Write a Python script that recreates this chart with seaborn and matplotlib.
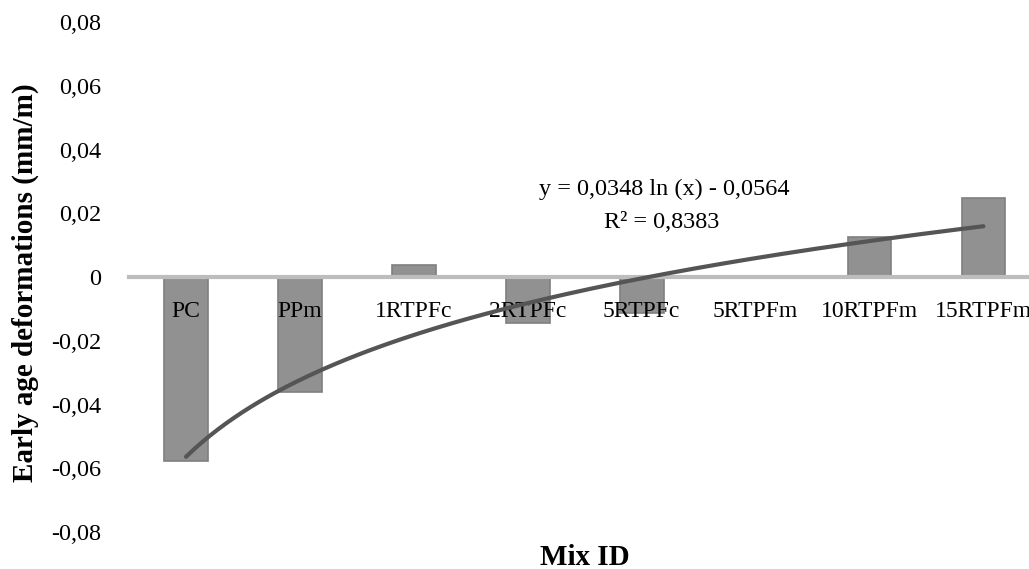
import numpy as np
import pandas as pd
import matplotlib
matplotlib.use("Agg")
import matplotlib.pyplot as plt
import seaborn as sns
from matplotlib.ticker import FuncFormatter

# data
mixes = ["PC", "PPm", "1RTPFc", "2RTPFc", "5RTPFc", "5RTPFm", "10RTPFm", "15RTPFm"]
deformation = [-0.0576, -0.0362, 0.0038, -0.0145, -0.0112, 0.0, 0.0126, 0.0249]

# logarithmic trendline as printed on the chart
trend_slope = 0.0348
trend_intercept = -0.0564
trend_label = "y = 0,0348 ln (x) - 0,0564"
r2_label = "R² = 0,8383"

sns.set_style("white")
plt.rcParams['font.family'] = ['Liberation Serif', 'DejaVu Serif']
plt.rcParams['text.color'] = 'black'
plt.rcParams['xtick.color'] = 'black'
plt.rcParams['ytick.color'] = 'black'
plt.rcParams['axes.labelcolor'] = 'black'

dfrm = pd.DataFrame({'Mix ID': mixes, 'Deformation': deformation})

fig = plt.figure(figsize=(10.29, 5.69), dpi=100)
ax = fig.add_axes([0.1254, 0.065, 0.8746, 0.896])

sns.barplot(data=dfrm, x='Mix ID', y='Deformation', color='#919191',
            width=0.385, edgecolor='#7f7f7f', linewidth=1.2, saturation=1, ax=ax)

# trendline over x = 1..n
xs = np.linspace(1, len(mixes), 200)
ax.plot(xs - 1, trend_slope * np.log(xs) + trend_intercept,
        color='#555555', linewidth=3, zorder=4)

ax.set_ylim(-0.08, 0.08)
ax.set_xlim(-0.5, len(mixes) - 0.6)
ax.set_yticks([-0.08, -0.06, -0.04, -0.02, 0, 0.02, 0.04, 0.06, 0.08])
ax.yaxis.set_major_formatter(FuncFormatter(
    lambda v, p: "0" if abs(v) < 1e-9 else f"{v:.2f}".replace('.', ',')))

for s in ['top', 'right', 'left']:
    ax.spines[s].set_visible(False)
ax.spines['bottom'].set_position(('data', 0))
ax.spines['bottom'].set_color('#bdbdbd')
ax.spines['bottom'].set_linewidth(3)
ax.set_axisbelow(False)

ax.tick_params(axis='x', length=0, pad=17, labelsize=17)
ax.tick_params(axis='y', length=0, pad=20, labelsize=17.5)

ax.set_xlabel("")
ax.set_ylabel("Early age deformations (mm/m)", fontsize=21, fontweight='bold', labelpad=4)
ax.yaxis.set_label_coords(-0.1, 0.49)
fig.text(0.5685, 0.021, "Mix ID", ha='center', va='center', fontsize=21, fontweight='bold')

ax.text(4.2, 0.0275, trend_label, ha='center', va='center', fontsize=17.5)
ax.text(4.18, 0.0170, r2_label, ha='center', va='center', fontsize=17.5)

plt.savefig("out.png", dpi=100)
